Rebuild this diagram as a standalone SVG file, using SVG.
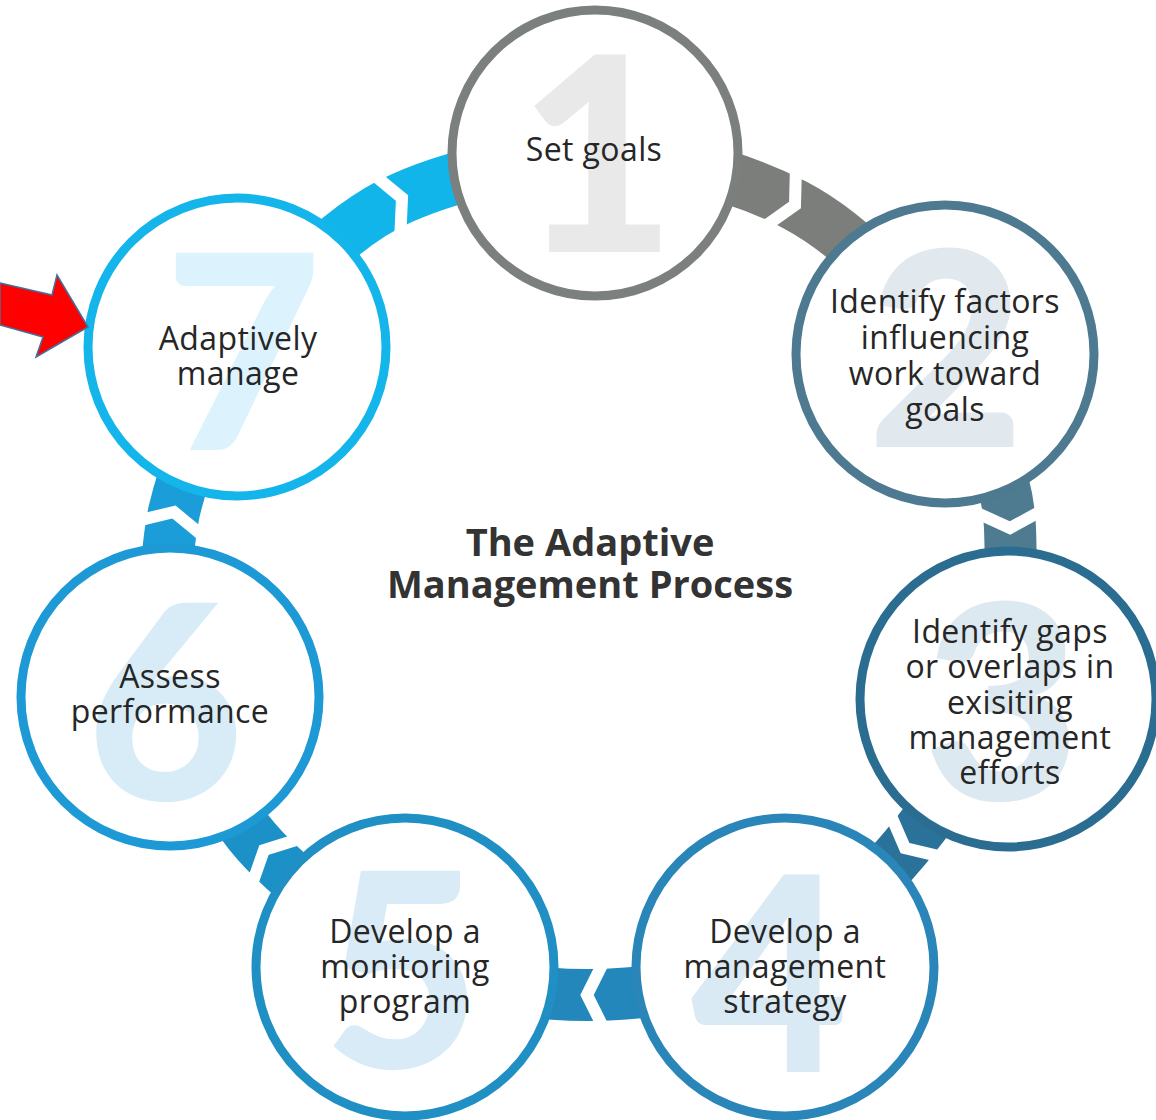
<svg xmlns="http://www.w3.org/2000/svg" width="1156" height="1120" viewBox="0 0 1156 1120">
<style>
.band{fill:none;stroke-width:52;stroke-linecap:butt}
.chev{fill:none;stroke:#ffffff;stroke-width:12;stroke-linejoin:miter;stroke-miterlimit:10}
.ring{fill:#ffffff;stroke-width:9}
.digit{font-family:Lato,"Open Sans","Liberation Sans",sans-serif;font-weight:900;font-size:272px;text-anchor:middle}
.label{font-family:"Open Sans",Lato,"Liberation Sans",sans-serif;font-size:32px;letter-spacing:0.4px;fill:#262626;text-anchor:middle}
.title{font-family:"Open Sans",Lato,"Liberation Sans",sans-serif;font-weight:700;font-size:38px;fill:#333333;text-anchor:middle}
</style>
<rect width="1156" height="1120" fill="#ffffff"/>
<g id="connectors">
  <g id="c1-2"><path class="band" stroke="#7b7e7b" d="M595,153 Q715.5,162.8 795,205 Q874.5,247.2 945,354"/><polyline class="chev" points="-18,-36 0,0 -18,36" transform="translate(795,205) rotate(28)"/></g>
  <g id="c2-3"><path class="band" stroke="#4f7b90" d="M945,354 Q1007.6,458 1010,528 Q1012.4,598 1008,699"/><polyline class="chev" points="-18,-36 0,0 -18,36" transform="translate(1010,528) rotate(88)"/></g>
  <g id="c3-4"><path class="band" stroke="#2a7299" d="M1008,699 Q950,794.4 905,848 Q860,901.6 785,967"/><polyline class="chev" points="-18,-36 0,0 -18,36" transform="translate(905,848) rotate(130)"/></g>
  <g id="c4-5"><path class="band" stroke="#2387bb" d="M785,967 Q667,995 587,995 Q507,995 405,967"/><polyline class="chev" points="-18,-36 0,0 -18,36" transform="translate(587,995) rotate(180)"/></g>
  <g id="c5-6"><path class="band" stroke="#1c91c8" d="M405,967 Q305.7,893.2 264,850 Q222.3,806.8 170,697"/><polyline class="chev" points="-18,-36 0,0 -18,36" transform="translate(264,850) rotate(226)"/></g>
  <g id="c6-7"><path class="band" stroke="#1a9dd8" d="M170,697 Q160,580 174,512 Q189.7,445.8 237,347"/><polyline class="chev" points="-18,-36 0,0 -18,36" transform="translate(174,512) rotate(283)"/></g>
  <g id="c7-1"><path class="band" stroke="#12b5ea" d="M237,347 Q326.9,230.6 402,198 Q475,165.4 595,153"/><polyline class="chev" points="-18,-36 0,0 -18,36" transform="translate(402,198) rotate(-24)"/></g>
</g>
<g id="node1">
  <circle class="ring" stroke="#7b7f7d" cx="595" cy="153" r="143"/>
  <text class="digit" fill="#e9e9e9" x="597" y="252">1</text>
  <text class="label" x="594" y="161">Set goals</text>
</g>
<g id="node2">
  <circle class="ring" stroke="#4d7a91" cx="945" cy="354" r="149"/>
  <text class="digit" fill="#e1e9ee" x="946" y="447">2</text>
  <text class="label" x="945" y="313">Identify factors</text>
  <text class="label" x="945" y="349">influencing</text>
  <text class="label" x="945" y="385">work toward</text>
  <text class="label" x="945" y="421">goals</text>
</g>
<g id="node3">
  <circle class="ring" stroke="#2a6d91" cx="1008" cy="699" r="148"/>
  <text class="digit" fill="#dde9f0" x="1002" y="800">3</text>
  <text class="label" x="1010" y="643">Identify gaps</text>
  <text class="label" x="1010" y="678">or overlaps in</text>
  <text class="label" x="1010" y="714">exisiting</text>
  <text class="label" x="1010" y="749">management</text>
  <text class="label" x="1010" y="784">efforts</text>
</g>
<g id="node4">
  <circle class="ring" stroke="#2a86b8" cx="785" cy="967" r="149"/>
  <text class="digit" fill="#d9eaf4" x="770" y="1072">4</text>
  <text class="label" x="785" y="943">Develop a</text>
  <text class="label" x="785" y="978">management</text>
  <text class="label" x="785" y="1013">strategy</text>
</g>
<g id="node5">
  <circle class="ring" stroke="#1f8fc4" cx="405" cy="967" r="149"/>
  <text class="digit" fill="#d8ebf6" x="402" y="1068">5</text>
  <text class="label" x="405" y="943">Develop a</text>
  <text class="label" x="405" y="978">monitoring</text>
  <text class="label" x="405" y="1013">program</text>
</g>
<g id="node6">
  <circle class="ring" stroke="#1d9ad6" cx="170" cy="697" r="149"/>
  <text class="digit" fill="#d8ecf8" x="165" y="800">6</text>
  <text class="label" x="170" y="688">Assess</text>
  <text class="label" x="170" y="723">performance</text>
</g>
<g id="node7">
  <circle class="ring" stroke="#14b5ea" cx="237" cy="347" r="149"/>
  <text class="digit" fill="#dcf2fc" x="243" y="450">7</text>
  <text class="label" x="238" y="350">Adaptively</text>
  <text class="label" x="238" y="385">manage</text>
</g>
<g id="title">
  <text class="title" x="590" y="556">The Adaptive</text>
  <text class="title" x="590" y="598">Management Process</text>
</g>
<g id="pointer">
  <polygon points="0,283 52,295 57,275 88,327 36,357 43,337 0,325" fill="#ff0000" stroke="#41719c" stroke-width="1.5" stroke-linejoin="miter"/>
</g>
</svg>
